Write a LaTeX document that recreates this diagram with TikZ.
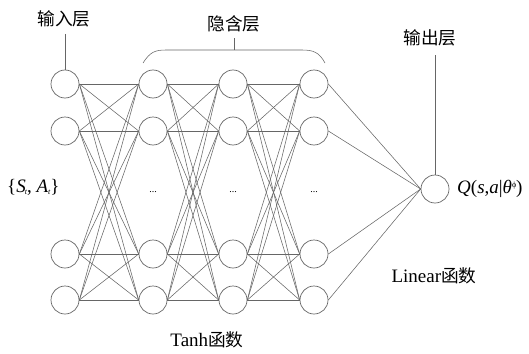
\documentclass[tikz,border=0pt]{standalone}
\usepackage{fontspec}
\setmainfont{Liberation Serif}
\newfontfamily\cjk{Noto Sans CJK SC}[Scale=0.93]
\begin{document}
\begin{tikzpicture}[x=1pt,y=-1pt,
  neuron/.style={circle,draw=black!60,line width=0.7pt,minimum size=28pt,inner sep=0pt},
  conn/.style={draw=black!60,line width=0.55pt},
  lbl/.style={font=\fontsize{19}{21}\selectfont,inner sep=0pt},
  dotsl/.style={font=\fontsize{10}{12}\selectfont,inner sep=0pt}]
\useasboundingbox (0,0) rectangle (529,353);
\foreach \c/\x in {1/65,2/153,3/233,4/314}{
  \foreach \r/\y in {1/84,2/131,3/254,4/300}{
    \node[neuron] (n\c\r) at (\x,\y) {};
  }
}
\node[neuron] (out) at (435,189) {};
\foreach \a/\b in {1/2,2/3,3/4}{
  \foreach \i in {1,2,3,4}{
    \foreach \j in {1,2,3,4}{
      \draw[conn] (n\a\i.east) -- (n\b\j.west);
    }
  }
}
\foreach \i in {1,2,3,4}{ \draw[conn] (n4\i.east) -- (out.west); }
% labels
\node[lbl] (inl) at (64,19) {\cjk 输入层};
\draw[conn] (65,34) -- (n11.north);
\node[lbl] (outl) at (430,38) {\cjk 输出层};
\coordinate (outtop) at (435,55);
\draw[conn] (outtop) -- (out.north);
\node[lbl] (hidl) at (234,24) {\cjk 隐含层};
\coordinate (bl) at (143,63);
\coordinate (br) at (325,63);
\coordinate (bt) at (234,50);
\coordinate (btt) at (234,38);
\draw[conn] (bl) .. controls (150,52) and (155,50) .. (166,50) -- (302,50) .. controls (313,50) and (319,52) .. (br);
\draw[conn] (bt) -- (btt);
\node[lbl,anchor=west] (st) at (7,187) {\{\textit{S\kern-1pt\raisebox{-2pt}{\fontsize{8}{9}\selectfont t}}, \textit{A\raisebox{-2pt}{\fontsize{8}{9}\selectfont t}}\}};
\node[lbl,anchor=west] (q) at (457,189) {\textit{Q}(\textit{s},\textit{a}|\textit{θ}\raisebox{6pt}{\fontsize{8}{9}\selectfont ϕ})};
\node[lbl] (lin) at (434,276) {Linear\cjk 函数};
\node[lbl] (tanh) at (207,340) {Tanh\cjk 函数};
\node[dotsl] (d2) at (153,192) {...};
\node[dotsl] (d3) at (233,192) {...};
\node[dotsl] (d4) at (314,192) {...};
\end{tikzpicture}
\end{document}
